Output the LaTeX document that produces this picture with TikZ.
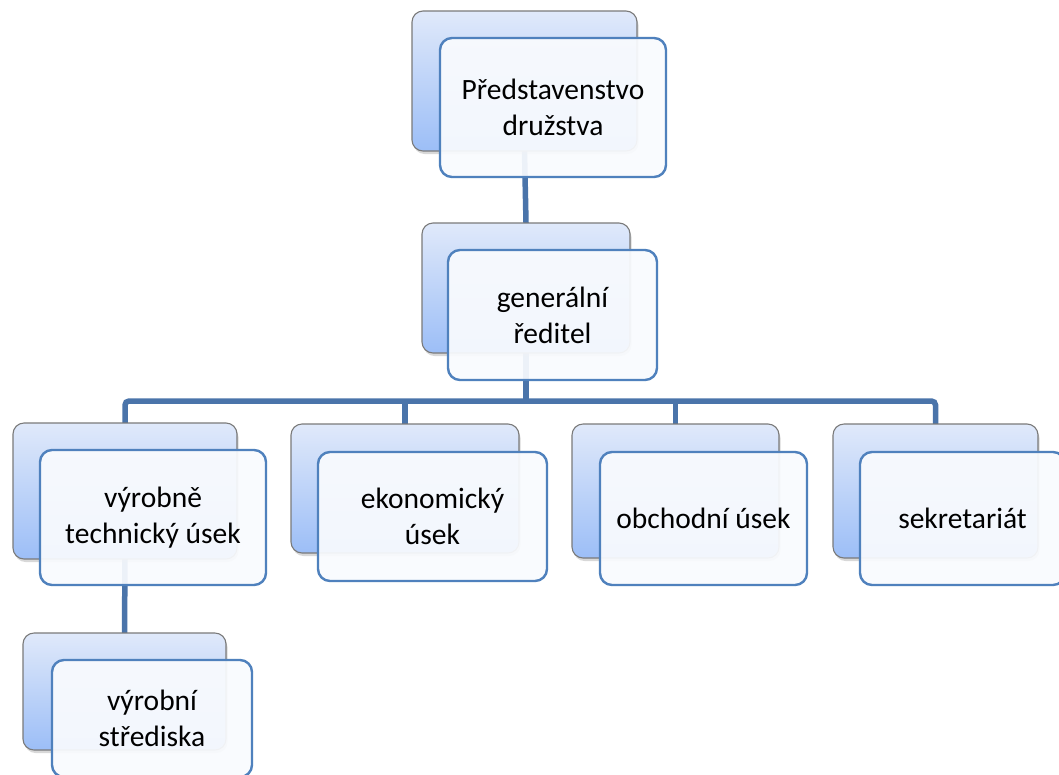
\documentclass[tikz,border=0pt]{standalone}
\usepackage{fontspec}
\setmainfont{Carlito}
\usetikzlibrary{shadows}
\definecolor{conncol}{HTML}{4A74AA}
\definecolor{frontborder}{HTML}{4F81BD}
\definecolor{frontfill}{HTML}{F9FBFE}
\definecolor{backtop}{HTML}{E0E9FA}
\definecolor{backbot}{HTML}{9CBEF7}
\definecolor{backborder}{HTML}{7A7A7A}
\tikzset{
  conn/.style={draw=conncol, line width=5.5pt},
  backbox/.style={draw=backborder, line width=1.1pt, rounded corners=11pt,
    top color=backtop, bottom color=backbot, inner sep=0pt,
    drop shadow={opacity=0.3, shadow xshift=1.5pt, shadow yshift=-3pt}},
  frontbox/.style={draw=frontborder, line width=2.4pt, rounded corners=12pt,
    fill=frontfill, fill opacity=0.93, text opacity=1, inner sep=0pt,
    align=center, font=\fontsize{29.5}{36}\selectfont}
}
\begin{document}
\begin{tikzpicture}[x=1pt,y=-1pt]
\useasboundingbox (0,0) rectangle (1059,774);
\fill[white] (0,0) rectangle (1059,774);
% back box positions, for connectors
\coordinate (bus) at (0,401);
\path
  node[minimum width=225pt, minimum height=140pt] (topb) at (524.5,81) {}
  node[minimum width=208pt, minimum height=130pt] (genb) at (526,288) {}
  node[minimum width=224pt, minimum height=136pt] (b1b) at (125,491) {}
  node[minimum width=228pt, minimum height=129pt] (b2b) at (405,488.5) {}
  node[minimum width=207pt, minimum height=134pt] (b3b) at (675.5,491) {}
  node[minimum width=205pt, minimum height=134pt] (b4b) at (935.5,491) {}
  node[minimum width=203pt, minimum height=117pt] (b5b) at (124.5,691.5) {};
% connectors
\draw[conn] (topb.south) -- (genb.north);
\draw[conn] (genb.south) -- (genb.south |- bus);
\draw[conn, rounded corners=4pt] (b1b.north) -- (b1b.north |- bus) -- (b4b.north |- bus) -- (b4b.north);
\draw[conn] (b2b.north |- bus) -- (b2b.north);
\draw[conn] (b3b.north |- bus) -- (b3b.north);
\draw[conn] (b1b.south) -- (b5b.north);
% back boxes
\node[backbox, minimum width=225pt, minimum height=140pt] (topbk) at (524.5,81) {};
\node[backbox, minimum width=208pt, minimum height=130pt] (genbk) at (526,288) {};
\node[backbox, minimum width=224pt, minimum height=136pt] (b1bk) at (125,491) {};
\node[backbox, minimum width=228pt, minimum height=129pt] (b2bk) at (405,488.5) {};
\node[backbox, minimum width=207pt, minimum height=134pt] (b3bk) at (675.5,491) {};
\node[backbox, minimum width=205pt, minimum height=134pt] (b4bk) at (935.5,491) {};
\node[backbox, minimum width=203pt, minimum height=117pt] (b5bk) at (124.5,691.5) {};
% front boxes
\node[frontbox, minimum width=226pt, minimum height=139pt] (topf) at (553,107.5) {Představenstvo\\družstva};
\node[frontbox, minimum width=209pt, minimum height=130pt] (genf) at (552.5,315) {generální\\ředitel};
\node[frontbox, minimum width=226pt, minimum height=135pt] (b1f) at (153,517.5) {výrobně\\technický úsek};
\node[frontbox, minimum width=229pt, minimum height=129pt] (b2f) at (432.5,516.5) {ekonomický\\úsek};
\node[frontbox, minimum width=207pt, minimum height=133pt] (b3f) at (703.5,518.5) {obchodní úsek};
\node[frontbox, minimum width=205pt, minimum height=133pt] (b4f) at (962.5,518.5) {sekretariát};
\node[frontbox, minimum width=200pt, minimum height=117pt] (b5f) at (152,718.5) {výrobní\\střediska};
\end{tikzpicture}
\end{document}
